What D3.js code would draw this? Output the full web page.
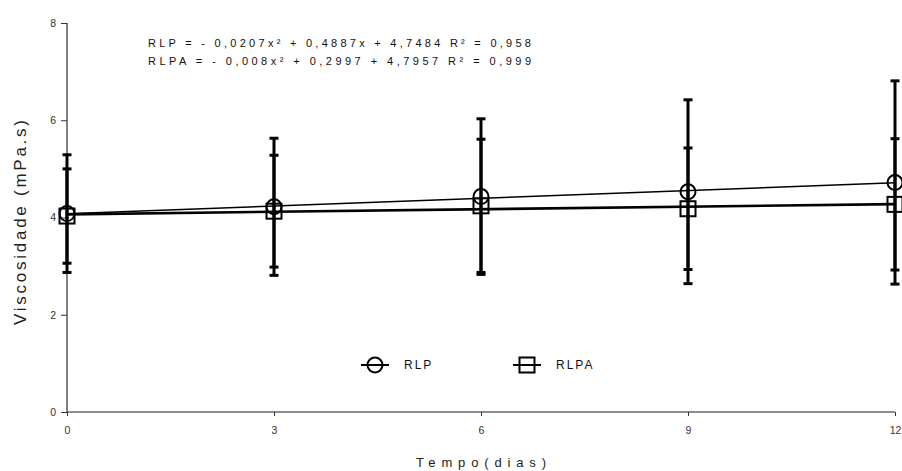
<!DOCTYPE html>
<html>
<head>
<meta charset="utf-8">
<script src="https://cdn.jsdelivr.net/npm/d3@7"></script>
<style>
    body { margin: 0; background: #fff; }
    svg { font-family: "Liberation Sans", Arial, sans-serif; }
    .axis text { fill: #333; font-size: 10.5px; }
</style>
</head>
<body>
<script>
// tempo (dias)
const days = [0, 3, 6, 9, 12];
// viscosidade media e desvio
const rlp = [4.08, 4.22, 4.43, 4.53, 4.72];
const rlpSd = [1.21, 1.41, 1.60, 1.89, 2.09];
const rlpa = [4.03, 4.13, 4.24, 4.18, 4.27];
const rlpaSd = [0.97, 1.15, 1.37, 1.25, 1.35];
const xTicks = [0, 3, 6, 9, 12];
const yTicks = [0, 2, 4, 6, 8];
const equations = [
    "RLP = - 0,0207x\u00b2 + 0,4887x + 4,7484  R\u00b2 = 0,958",
    "RLPA = - 0,008x\u00b2 + 0,2997 + 4,7957   R\u00b2 = 0,999"
];

const width = 902, height = 471;
const margin = { top: 23, right: 7, bottom: 59, left: 67 };

const svg = d3.select("body").append("svg")
    .attr("width", width)
    .attr("height", height);

const x = d3.scaleLinear().domain([0, 12]).range([margin.left, width - margin.right]);
const y = d3.scaleLinear().domain([0, 8]).range([height - margin.bottom, margin.top]);

// axes
const yAxis = svg.append("g")
    .attr("class", "axis")
    .attr("transform", "translate(" + margin.left + ",0)")
    .call(d3.axisLeft(y).tickValues(yTicks).tickSize(6).tickPadding(5));
yAxis.select(".domain").attr("stroke", "#000").attr("d", "M0," + y(8) + "V" + y(0));
yAxis.selectAll(".tick line").attr("stroke", "#333");

const xAxis = svg.append("g")
    .attr("class", "axis")
    .attr("transform", "translate(0," + y(0) + ")")
    .call(d3.axisBottom(x).tickValues(xTicks).tickSize(4).tickPadding(11));
xAxis.select(".domain").attr("stroke", "#666").attr("stroke-width", 1.5)
    .attr("d", "M" + x(0) + ",0H" + x(12));
xAxis.selectAll(".tick line").attr("stroke", "#333");

// titulos
svg.append("text")
    .attr("transform", "translate(26," + (y(4) + 5) + ") rotate(-90)")
    .attr("text-anchor", "middle")
    .attr("font-size", 17)
    .attr("textLength", 205)
    .attr("lengthAdjust", "spacing")
    .attr("fill", "#222")
    .text("Viscosidade (mPa.s)");

svg.append("text")
    .attr("x", x(6))
    .attr("y", 467)
    .attr("text-anchor", "middle")
    .attr("font-size", 13)
    .attr("textLength", 130)
    .attr("lengthAdjust", "spacing")
    .attr("fill", "#222")
    .text("Tempo(dias)");

svg.selectAll(".eq")
    .data(equations)
    .enter().append("text")
    .attr("class", "eq")
    .attr("x", 148)
    .attr("y", (d, i) => 47 + i * 18)
    .attr("font-size", 11)
    .attr("textLength", 383)
    .attr("lengthAdjust", "spacing")
    .attr("fill", "#111")
    .text(d => d);

// linha de tendencia (minimos quadrados)
function fit(ys) {
    const mx = d3.mean(days), my = d3.mean(ys);
    const b = d3.sum(days, (d, i) => (d - mx) * (ys[i] - my)) / d3.sum(days, d => (d - mx) * (d - mx));
    const a = my - b * mx;
    return [0, 12].map(t => [t, a + b * t]);
}
const line = d3.line().x(d => x(d[0])).y(d => y(d[1]));

const series = [
    { name: "RLP", vals: rlp, sd: rlpSd, shape: "circle", lw: 1.5 },
    { name: "RLPA", vals: rlpa, sd: rlpaSd, shape: "square", lw: 2.6 }
];

series.forEach(s => {
    svg.append("path")
        .attr("d", line(fit(s.vals)))
        .attr("fill", "none")
        .attr("stroke", "#000")
        .attr("stroke-width", s.lw);
});

// barras de erro
series.forEach(s => {
    const g = svg.append("g").attr("stroke", "#000").attr("stroke-width", 3);
    days.forEach((d, i) => {
        const hi = s.vals[i] + s.sd[i], lo = s.vals[i] - s.sd[i];
        g.append("line").attr("x1", x(d)).attr("x2", x(d)).attr("y1", y(hi)).attr("y2", y(lo));
        g.append("line").attr("x1", x(d) - 4.5).attr("x2", x(d) + 4.5).attr("y1", y(hi)).attr("y2", y(hi));
        g.append("line").attr("x1", x(d) - 4.5).attr("x2", x(d) + 4.5).attr("y1", y(lo)).attr("y2", y(lo));
    });
});

function marker(g, shape, cx, cy) {
    if (shape === "circle") {
        g.append("circle").attr("cx", cx).attr("cy", cy).attr("r", 7.5)
            .attr("fill", "none").attr("stroke", "#000").attr("stroke-width", 2);
    } else {
        g.append("rect").attr("x", cx - 7.5).attr("y", cy - 7.5).attr("width", 15).attr("height", 15)
            .attr("fill", "none").attr("stroke", "#000").attr("stroke-width", 2);
    }
}

series.forEach(s => {
    const g = svg.append("g");
    days.forEach((d, i) => marker(g, s.shape, x(d), y(s.vals[i])));
});

// legenda
const legend = svg.append("g");
const legX = [375, 527];
series.forEach((s, i) => {
    const cx = legX[i], cy = 365;
    legend.append("line").attr("x1", cx - 14).attr("x2", cx + 14).attr("y1", cy).attr("y2", cy)
        .attr("stroke", "#000").attr("stroke-width", 2);
    marker(legend, s.shape, cx, cy);
    legend.append("text")
        .attr("x", cx + 29)
        .attr("y", cy + 4)
        .attr("font-size", 12)
        .attr("letter-spacing", 2)
        .attr("fill", "#111")
        .text(s.name);
});
</script>
</body>
</html>
